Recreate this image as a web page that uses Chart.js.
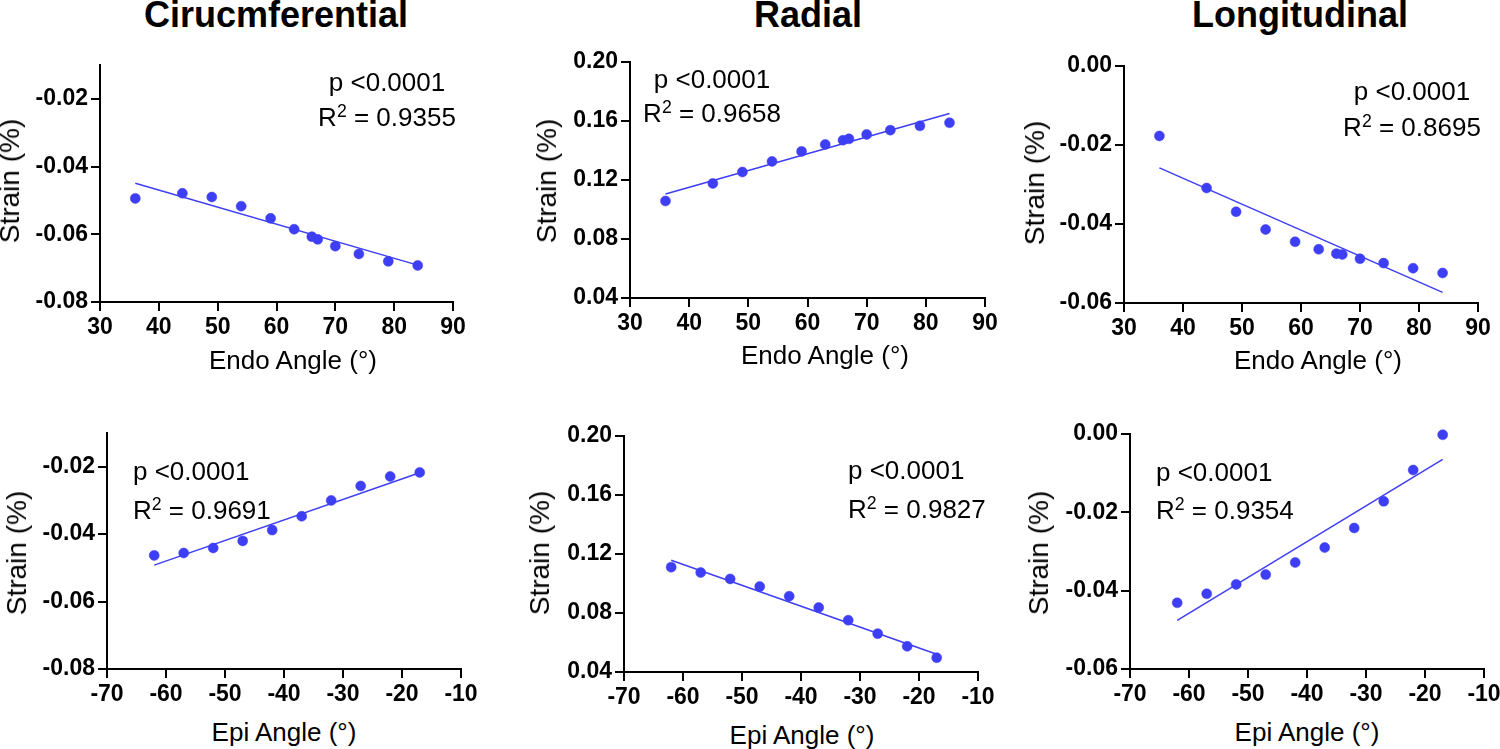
<!DOCTYPE html>
<html>
<head>
<meta charset="utf-8">
<script src="https://cdn.jsdelivr.net/npm/chart.js@4.4.1/dist/chart.umd.min.js"></script>
<style>
  body { margin: 0; width: 1500px; height: 749px; overflow: hidden; position: relative; background: #fff;
         font-family: 'Liberation Sans', Arial, sans-serif; color: #000; }
  .box { position: absolute; }
  .txt { position: absolute; white-space: nowrap; line-height: 1; }
  .sup { font-size: 0.68em; position: relative; top: -0.5em; }
</style>
</head>
<body>
<script>
'use strict';
// x values (angles)
const endoAngle = [36, 44, 49, 54, 59, 63, 66, 67, 70, 74, 79, 84];
const epiAngle = [-62, -57, -52, -47, -42, -37, -32, -27, -22, -17];

// strain values
const circEndo = [-0.0494, -0.0479, -0.0490, -0.0517, -0.0553, -0.0585, -0.0607, -0.0615, -0.0635, -0.0658, -0.0680, -0.0692];
const radEndo = [0.1058, 0.1177, 0.1254, 0.1326, 0.1394, 0.1441, 0.1470, 0.1479, 0.1509, 0.1538, 0.1567, 0.1588];
const longEndo = [-0.0177, -0.0309, -0.0369, -0.0414, -0.0445, -0.0464, -0.0475, -0.0477, -0.0488, -0.0499, -0.0512, -0.0524];
const circEpi = [-0.0463, -0.0456, -0.0441, -0.0420, -0.0388, -0.0347, -0.0300, -0.0257, -0.0229, -0.0217];
const radEpi = [0.1111, 0.1074, 0.1031, 0.0979, 0.0914, 0.0837, 0.0751, 0.0660, 0.0574, 0.0497];
const longEpi = [-0.0431, -0.0408, -0.0384, -0.0359, -0.0328, -0.0290, -0.0240, -0.0172, -0.0092, -0.0002];

// regression line end values (first / last x)
const circEndoFit = [-0.0449, -0.0691];
const radEndoFit = [0.1105, 0.1651];
const longEndoFit = [-0.0258, -0.0573];
const circEpiFit = [-0.0492, -0.0218];
const radEpiFit = [0.1158, 0.0520];
const longEpiFit = [-0.0476, -0.0065];

// tick labels
const endoTicks = [30, 40, 50, 60, 70, 80, 90];
const epiTicks = [-70, -60, -50, -40, -30, -20, -10];
const circTicks = [-0.08, -0.06, -0.04, -0.02];
const radTicks = [0.04, 0.08, 0.12, 0.16, 0.20];
const longTicks = [-0.06, -0.04, -0.02, 0.00];

const colTitles = ['Cirucmferential', 'Radial', 'Longitudinal'];
const pValues = ['p <0.0001', 'p <0.0001', 'p <0.0001', 'p <0.0001', 'p <0.0001', 'p <0.0001'];
const r2Values = ['0.9355', '0.9658', '0.8695', '0.9691', '0.9827', '0.9354'];

const FONT = "'Liberation Sans', Arial, sans-serif";
const BLUE = 'rgb(62, 62, 245)';
const Y_W = 100, X_H = 45, PAD_T = 20, PAD_R = 30;

// plot area of each panel in page pixels: L, R, T, B
const panels = [
    { L: 100, R: 453, T: 65, B: 302, x: endoAngle, y: circEndo, fit: circEndoFit, xt: endoTicks, yt: circTicks, ymin: -0.08, ymax: -0.01,
      xlab: 'Endo Angle (°)', xlabPos: [293, 360], ylabPos: [10, 181], ann: [387, 82, 117], align: 'center' },
    { L: 630, R: 985, T: 62, B: 298, x: endoAngle, y: radEndo, fit: radEndoFit, xt: endoTicks, yt: radTicks, ymin: 0.04, ymax: 0.20,
      xlab: 'Endo Angle (°)', xlabPos: [825, 355], ylabPos: [547, 181], ann: [712, 79, 113], align: 'center' },
    { L: 1124, R: 1478, T: 66, B: 303, x: endoAngle, y: longEndo, fit: longEndoFit, xt: endoTicks, yt: longTicks, ymin: -0.06, ymax: 0,
      xlab: 'Endo Angle (°)', xlabPos: [1318, 360], ylabPos: [1035, 183], ann: [1412, 91, 127], align: 'center' },
    { L: 107, R: 461, T: 433, B: 669, x: epiAngle, y: circEpi, fit: circEpiFit, xt: epiTicks, yt: circTicks, ymin: -0.08, ymax: -0.01,
      xlab: 'Epi Angle (°)', xlabPos: [284, 732], ylabPos: [17, 553], ann: [133, 471, 510], align: 'left' },
    { L: 624, R: 978, T: 436, B: 672, x: epiAngle, y: radEpi, fit: radEpiFit, xt: epiTicks, yt: radTicks, ymin: 0.04, ymax: 0.20,
      xlab: 'Epi Angle (°)', xlabPos: [802, 735], ylabPos: [540, 553], ann: [848, 470, 509], align: 'left' },
    { L: 1130, R: 1484, T: 434, B: 669, x: epiAngle, y: longEpi, fit: longEpiFit, xt: epiTicks, yt: longTicks, ymin: -0.06, ymax: 0,
      xlab: 'Epi Angle (°)', xlabPos: [1307, 732], ylabPos: [1039, 553], ann: [1156, 472, 510], align: 'left' }
];

function addText(html, cx, cy, size, opts) {
    const d = document.createElement('div');
    d.className = 'txt';
    d.innerHTML = html;
    d.style.fontSize = size + 'px';
    d.style.left = cx + 'px';
    d.style.top = cy + 'px';
    if (opts && opts.bold) d.style.fontWeight = 'bold';
    let tr = (opts && opts.left) ? 'translate(0,-50%)' : 'translate(-50%,-50%)';
    if (opts && opts.rotate) tr += ' rotate(-90deg)';
    d.style.transform = tr;
    document.body.appendChild(d);
}

function axisOpts(min, max, ticks, fmt) {
    return {
        type: 'linear',
        min: min,
        max: max,
        afterBuildTicks: s => { s.ticks = ticks.map(v => ({ value: v })); },
        grid: { drawOnChartArea: false, color: '#000', lineWidth: 2, tickLength: 9 },
        border: { color: '#000', width: 2 },
        ticks: {
            color: '#000',
            font: { family: FONT, size: 23, weight: 'bold' },
            padding: 3,
            autoSkip: false,
            maxRotation: 0,
            callback: fmt
        }
    };
}

// column titles
addText(colTitles[0], 276, 15, 36, { bold: true });
addText(colTitles[1], 808, 15, 36, { bold: true });
addText(colTitles[2], 1300, 15, 36, { bold: true });

panels.forEach((p, i) => {
    const box = document.createElement('div');
    box.className = 'box';
    box.style.left = (p.L - Y_W) + 'px';
    box.style.top = (p.T - PAD_T) + 'px';
    box.style.width = (Y_W + (p.R - p.L) + PAD_R) + 'px';
    box.style.height = (PAD_T + (p.B - p.T) + X_H) + 'px';
    const cv = document.createElement('canvas');
    box.appendChild(cv);
    document.body.appendChild(box);

    const pts = p.x.map((v, k) => ({ x: v, y: p.y[k] }));
    const line = [{ x: p.x[0], y: p.fit[0] }, { x: p.x[p.x.length - 1], y: p.fit[1] }];

    const xs = axisOpts(p.xt[0], p.xt[p.xt.length - 1], p.xt, v => v);
    xs.afterFit = s => { s.height = X_H; };
    xs.ticks.padding = 3;
    const ys = axisOpts(p.ymin, p.ymax, p.yt, v => Number(v).toFixed(2));
    ys.afterFit = s => { s.width = Y_W; };

    new Chart(cv, {
        type: 'scatter',
        data: {
            datasets: [{
                data: line,
                showLine: true,
                borderColor: BLUE,
                borderWidth: 1.5,
                pointRadius: 0,
                clip: false
            }, {
                data: pts,
                backgroundColor: BLUE,
                borderColor: BLUE,
                pointRadius: 5,
                pointBorderWidth: 0.5,
                clip: false
            }]
        },
        options: {
            responsive: true,
            maintainAspectRatio: false,
            animation: false,
            layout: { padding: { top: PAD_T, right: PAD_R, left: 0, bottom: 0 } },
            plugins: { legend: { display: false }, tooltip: { enabled: false } },
            scales: { x: xs, y: ys }
        }
    });

    addText(p.xlab, p.xlabPos[0], p.xlabPos[1], 26);
    addText('Strain (%)', p.ylabPos[0], p.ylabPos[1], 28, { rotate: true });
    const left = p.align === 'left';
    addText(pValues[i], p.ann[0], p.ann[1], 26, { left: left });
    addText('R<span class="sup">2</span> = ' + r2Values[i], p.ann[0], p.ann[2], 26, { left: left });
});
</script>
</body>
</html>
